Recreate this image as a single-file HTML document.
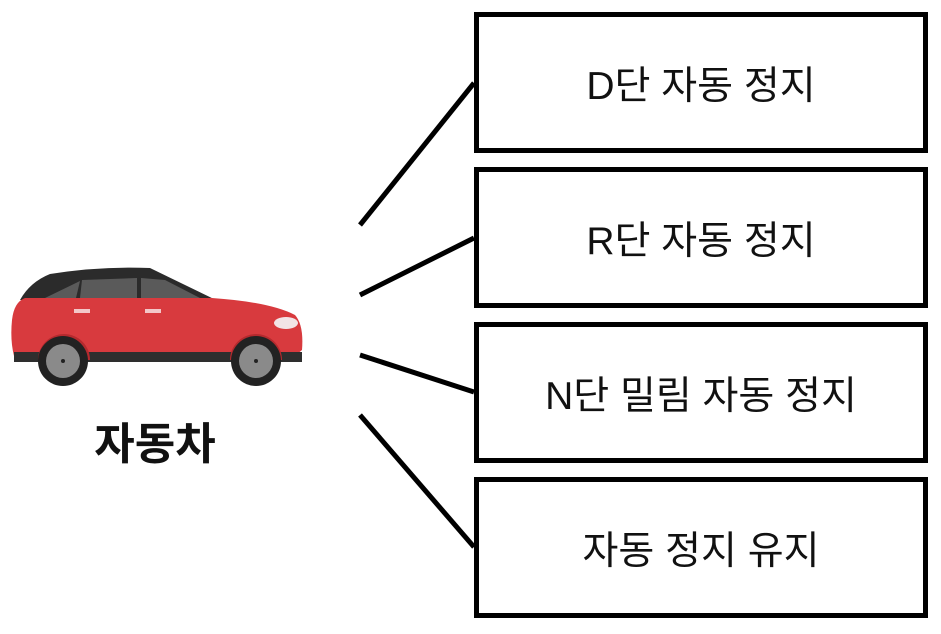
<!DOCTYPE html>
<html><head><meta charset="utf-8"><style>
body{margin:0;width:941px;height:634px;background:#fff;overflow:hidden;position:relative;font-family:"Liberation Sans","Noto Sans CJK KR",sans-serif}
.b{position:absolute;left:474px;width:444px;height:128px;border:5px solid #000;box-sizing:content-box;display:flex;align-items:center;justify-content:center;font-size:39px;color:#111}
</style></head><body>
<div class="b" style="top:12px;height:131px">D단 자동 정지</div>
<div class="b" style="top:167px;height:131px">R단 자동 정지</div>
<div class="b" style="top:322px;height:131px">N단 밀림 자동 정지</div>
<div class="b" style="top:477px;height:131px">자동 정지 유지</div>
<svg width="941" height="634" style="position:absolute;left:0;top:0">
<g stroke="#000" stroke-width="5" stroke-linecap="butt">
<line x1="360" y1="225" x2="474" y2="83"/>
<line x1="360" y1="295" x2="474" y2="238"/>
<line x1="360" y1="355" x2="474" y2="392"/>
<line x1="360" y1="415" x2="474" y2="547"/>
</g>
<path d="M20 300 Q30 282 50 274 Q100 266 150 268 L218 301 Z" fill="#2b2b2b"/>
<path d="M45 298 L80 281 L76 298 Z M80 298 L82 280 L137 278 L137 298 Z M141 298 L141 278 L165 280 L200 298 Z" fill="#5a5a5a"/>
<path d="M12 320 Q14 302 25 298 L212 298 Q270 302 295 315 Q304 325 302 350 L295 356 L14 356 Q10 340 12 320 Z" fill="#d83a3e"/>
<rect x="14" y="352" width="288" height="10" fill="#2e2e2e"/>
<ellipse cx="286" cy="323" rx="12" ry="6" fill="#f2e4e6"/>
<rect x="74" y="309" width="16" height="4" fill="#f3c7c8"/><rect x="145" y="309" width="16" height="4" fill="#f3c7c8"/>
<path d="M38 360 A26 26 0 0 1 90 360 Z M230 360 A26 26 0 0 1 282 360 Z" fill="#b52a2e"/>
<circle cx="63" cy="361" r="25" fill="#222"/><circle cx="63" cy="361" r="17" fill="#8a8a8a"/>
<circle cx="256" cy="361" r="25" fill="#222"/><circle cx="256" cy="361" r="17" fill="#8a8a8a"/>
<circle cx="63" cy="361" r="2" fill="#222"/><circle cx="256" cy="361" r="2" fill="#222"/>
</svg>
<div style="position:absolute;left:55px;top:408px;width:200px;text-align:center;font-size:44px;font-weight:bold;color:#111">자동차</div>
</body></html>
